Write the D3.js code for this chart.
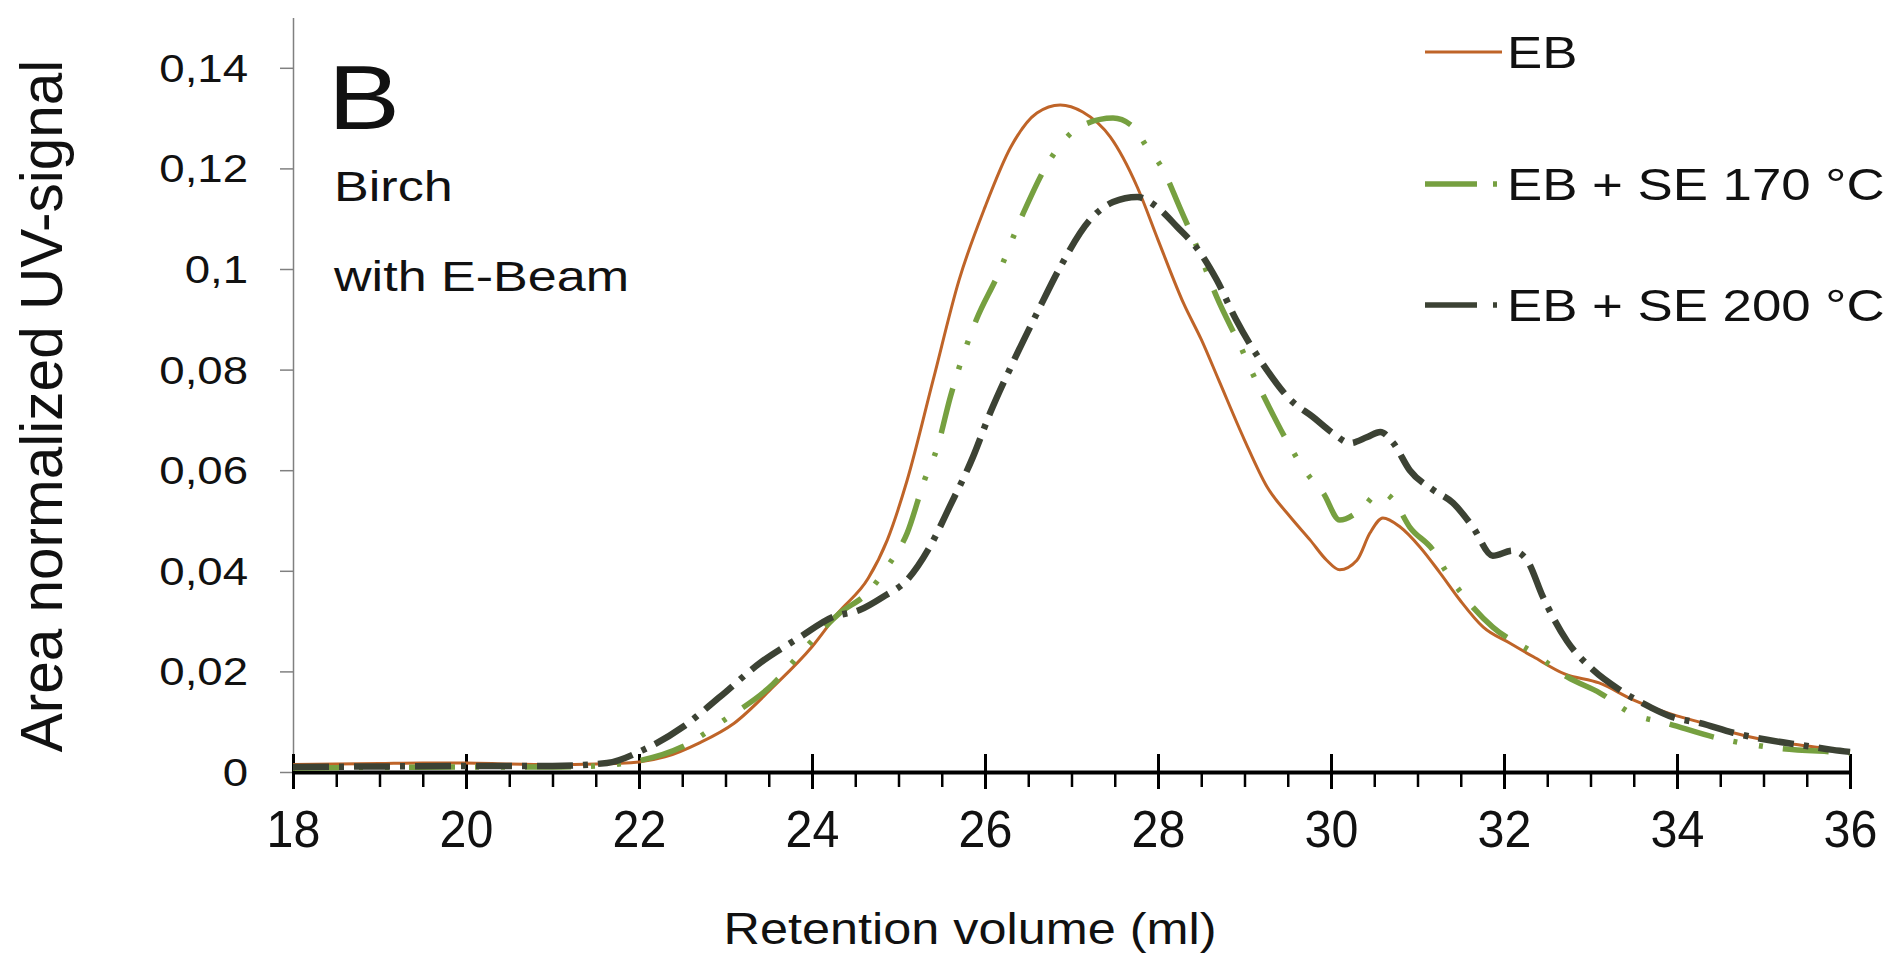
<!DOCTYPE html>
<html>
<head>
<meta charset="utf-8">
<script src="https://cdn.jsdelivr.net/npm/d3@7"></script>
<style>
  body { margin: 0; background: #fff; }
  text { font-family: "Liberation Sans", Arial, sans-serif; fill: #111; }
</style>
</head>
<body>
<div id="chart"></div>
<script>
// series: [retention volume (ml), area normalized UV-signal]
const ebPoints = [
  [18.0, 0.0015], [18.5, 0.0016], [19.0, 0.0017], [19.5, 0.0018], [20.0, 0.0018],
  [20.5, 0.0016], [21.0, 0.0015], [21.5, 0.0016], [22.0, 0.0020], [22.3, 0.0030],
  [22.7, 0.0058], [23.1, 0.0097], [23.55, 0.0169], [24.0, 0.0249], [24.3, 0.0316],
  [24.65, 0.0385], [24.87, 0.0461], [25.1, 0.058], [25.4, 0.0779], [25.7, 0.0978],
  [26.0, 0.1123], [26.3, 0.1243], [26.6, 0.1310], [26.87, 0.1326], [27.13, 0.1312],
  [27.45, 0.1262], [27.76, 0.1163], [28.0, 0.1058], [28.3, 0.093], [28.5, 0.086],
  [28.7, 0.078], [29.0, 0.066], [29.26, 0.0567], [29.53, 0.0507], [29.76, 0.0461],
  [29.95, 0.0421], [30.1, 0.0402], [30.3, 0.0421], [30.45, 0.0475], [30.6, 0.0505],
  [30.8, 0.0487], [31.03, 0.0447], [31.26, 0.0396], [31.49, 0.0342], [31.76, 0.0288],
  [32.07, 0.0256], [32.34, 0.0229], [32.7, 0.0195], [33.1, 0.0177], [33.5, 0.0143],
  [33.9, 0.0117], [34.3, 0.0097], [34.65, 0.0078], [35.0, 0.0064], [35.4, 0.0054],
  [35.8, 0.0045], [36.0, 0.0040]
];
const se170Points = [
  [18.0, 0.0008], [19.0, 0.0009], [20.0, 0.0010], [21.0, 0.0010], [21.5, 0.0012],
  [21.93, 0.0020], [22.5, 0.0050], [23.0, 0.0105], [23.55, 0.0175], [23.94, 0.0250],
  [24.32, 0.0316], [24.64, 0.0356], [24.87, 0.0408], [25.1, 0.0475], [25.3, 0.058],
  [25.45, 0.0646], [25.6, 0.0746], [25.9, 0.0899], [26.14, 0.0985], [26.44, 0.111],
  [26.75, 0.1217], [27.1, 0.1283], [27.48, 0.1300], [27.71, 0.1283], [27.87, 0.1243],
  [28.06, 0.1197], [28.25, 0.1123], [28.45, 0.1044], [28.68, 0.0944], [28.97, 0.084],
  [29.1, 0.079], [29.26, 0.0734], [29.53, 0.0646], [29.72, 0.0594], [29.91, 0.0555],
  [30.1, 0.0501], [30.34, 0.0521], [30.57, 0.0557], [30.72, 0.0541], [30.91, 0.0487],
  [31.18, 0.0441], [31.34, 0.0396], [31.57, 0.0342], [31.87, 0.0288], [32.34, 0.0237],
  [32.73, 0.0189], [33.11, 0.0157], [33.49, 0.0115], [33.88, 0.0097], [34.46, 0.0068],
  [35.04, 0.0050], [35.8, 0.0040], [36.0, 0.0038]
];
const se200Points = [
  [18.0, 0.0010], [19.0, 0.0011], [20.0, 0.0012], [21.0, 0.0012], [21.63, 0.0018],
  [22.05, 0.0044], [22.51, 0.0090], [22.94, 0.0150], [23.4, 0.0217], [23.86, 0.0268],
  [24.24, 0.0308], [24.55, 0.0322], [24.82, 0.0348], [25.1, 0.0382], [25.36, 0.0447],
  [25.59, 0.0527], [25.86, 0.0626], [26.06, 0.0714], [26.32, 0.0813], [26.6, 0.0912],
  [26.87, 0.1004], [27.21, 0.1097], [27.48, 0.1133], [27.76, 0.1143], [27.99, 0.1123],
  [28.22, 0.1084], [28.49, 0.1032], [28.68, 0.0978], [28.9, 0.090], [29.26, 0.0799],
  [29.53, 0.0740], [29.79, 0.0706], [30.02, 0.0674], [30.22, 0.0654], [30.42, 0.0666],
  [30.57, 0.0676], [30.72, 0.0654], [30.91, 0.0600], [31.18, 0.0561], [31.41, 0.0535],
  [31.64, 0.0487], [31.87, 0.0430], [32.1, 0.0440], [32.27, 0.0420], [32.45, 0.0348],
  [32.73, 0.0260], [33.03, 0.0203], [33.34, 0.0163], [33.69, 0.0129], [33.95, 0.0109],
  [34.27, 0.0097], [34.65, 0.0078], [35.04, 0.0064], [35.42, 0.0054], [35.8, 0.0044],
  [36.0, 0.0040]
];

const seriesNames = ["EB", "EB + SE 170 °C", "EB + SE 200 °C"];
const xMajorTicks = [18, 20, 22, 24, 26, 28, 30, 32, 34, 36];
const xMinorTicks = d3.range(18.5, 36, 0.5).filter(v => v % 2 !== 0);
const yTicks = [0, 0.02, 0.04, 0.06, 0.08, 0.1, 0.12, 0.14];
const yTickLabels = ["0", "0,02", "0,04", "0,06", "0,08", "0,1", "0,12", "0,14"];

const width = 1889, height = 958;
const stretch = 1.2;   // most text in the picture is a bit wide

const svg = d3.select("#chart").append("svg")
    .attr("width", width)
    .attr("height", height);

const x = d3.scaleLinear().domain([18, 36]).range([293, 1850]);
const y = d3.scaleLinear().domain([0, 0.15]).range([772, 17.5]);

// y axis
const yAxis = svg.append("g")
    .attr("transform", "translate(" + x(18) + ",0)")
    .call(d3.axisLeft(y).tickValues(yTicks).tickSize(13).tickSizeOuter(0)
      .tickFormat((d, i) => yTickLabels[i]));
yAxis.select(".domain").attr("stroke", "#808080").attr("stroke-width", 1.5);
yAxis.selectAll(".tick line").attr("stroke", "#808080").attr("stroke-width", 1.5);
yAxis.selectAll(".tick text")
    .attr("x", -45 / stretch)
    .attr("dy", null)
    .attr("y", 13.5)
    .attr("transform", "scale(" + stretch + ",1)")
    .style("font-size", "38px")
    .style("font-family", "'Liberation Sans', Arial, sans-serif")
    .attr("fill", "#111");

// x axis, minor ticks below only, major ticks crossing the line
const xMinor = svg.append("g")
    .attr("transform", "translate(0," + y(0) + ")")
    .call(d3.axisBottom(x).tickValues(xMinorTicks).tickSize(15).tickSizeOuter(0).tickFormat(""));
xMinor.select(".domain").remove();
xMinor.selectAll(".tick line").attr("stroke", "#000").attr("stroke-width", 2.5);

const xAxis = svg.append("g")
    .attr("transform", "translate(0," + y(0) + ")")
    .call(d3.axisBottom(x).tickValues(xMajorTicks).tickSize(17).tickSizeOuter(0));
xAxis.select(".domain").attr("stroke", "#000").attr("stroke-width", 4);
xAxis.selectAll(".tick line").attr("stroke", "#000").attr("stroke-width", 3).attr("y1", -18);
xAxis.selectAll(".tick text")
    .attr("y", 75)
    .attr("dy", null)
    .attr("transform", "scale(0.93,1)")
    .attr("x", 0)
    .style("font-size", "52px")
    .style("font-family", "'Liberation Sans', Arial, sans-serif")
    .attr("fill", "#111");

// lines
const line = d3.line()
    .x(d => x(d[0]))
    .y(d => y(d[1]))
    .curve(d3.curveMonotoneX);

const styles = [
  {data: ebPoints, color: "#bf6428", w: 3, dash: null},
  {data: se170Points, color: "#76a040", w: 5.5, dash: "46,20,4,22,4,20"},
  {data: se200Points, color: "#3c4234", w: 6.5, dash: "36,10,5,10"}
];

svg.append("g").selectAll("path")
    .data(styles)
    .enter()
    .append("path")
      .attr("d", d => line(d.data))
      .attr("fill", "none")
      .attr("stroke", d => d.color)
      .attr("stroke-width", d => d.w)
      .attr("stroke-dasharray", d => d.dash);

// labels
function label(txt, px, py, size, anchor, sx) {
  svg.append("text")
    .attr("transform", "translate(" + px + "," + py + ") scale(" + (sx || stretch) + ",1)")
    .attr("text-anchor", anchor || "start")
    .style("font-size", size + "px")
    .text(txt);
}

label("B", 328, 129, 90);
label("Birch", 334, 201, 42, "start", 1.24);
label("with E-Beam", 334, 291, 42, "start", 1.24);
label("Retention volume (ml)", 970, 944, 45, "middle", 1.12);

svg.append("text")
    .attr("transform", "translate(62,406) rotate(-90)")
    .attr("text-anchor", "middle")
    .style("font-size", "58.5px")
    .text("Area normalized UV-signal");

// legend
const legendY = [52, 184, 305];
const legend = svg.append("g");
styles.forEach((s, i) => {
  legend.append("line")
    .attr("x1", 1425).attr("x2", 1502)
    .attr("y1", legendY[i]).attr("y2", legendY[i])
    .attr("stroke", s.color)
    .attr("stroke-width", i === 0 ? 3 : 5.5)
    .attr("stroke-dasharray", i === 0 ? null : "52,16,4,100");
  label(seriesNames[i], 1507, legendY[i] + 16, 44);
});
</script>
</body>
</html>
